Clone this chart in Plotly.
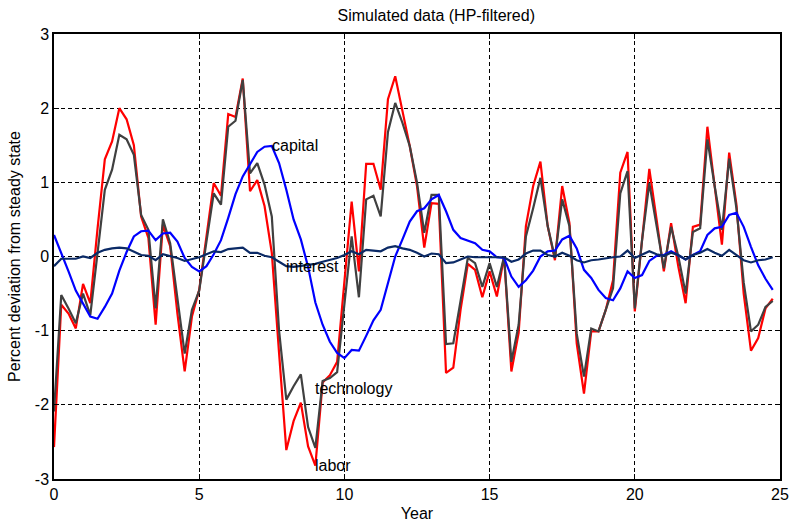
import plotly.graph_objects as go

# quarterly time index (years)
years = [i * 0.25 for i in range(100)]

labor = [-2.57, -0.65, -0.77, -0.97, -0.37, -0.63, 0.38, 1.31, 1.55, 2.0,
         1.85, 1.5, 0.54, 0.25, -0.92, 0.43, 0.14, -0.77, -1.55, -0.81,
         -0.45, 0.3, 0.99, 0.82, 1.92, 1.88, 2.4, 0.88, 1.03, 0.68,
         0.05, -1.3, -2.61, -2.22, -1.97, -2.56, -2.82, -1.7, -1.6, -1.42,
         -0.33, 0.74, -0.2, 1.25, 1.25, 0.9, 2.12, 2.43, 1.96, 1.49,
         0.95, 0.12, 0.72, 0.71, -1.57, -1.5, -0.72, -0.1, -0.18, -0.55,
         -0.2, -0.54, 0.0, -1.55, -1.03, 0.41, 0.95, 1.28, 0.41, -0.05,
         0.95, 0.45, -1.17, -1.85, -1.01, -1.01, -0.72, -0.32, 1.13, 1.41,
         -0.74, 0.22, 1.18, 0.5, -0.2, 0.45, -0.14, -0.63, 0.4, 0.43,
         1.75, 0.95, 0.16, 1.4, 0.7, -0.5, -1.27, -1.1, -0.7, -0.57]

technology = [-2.09, -0.52, -0.7, -0.9, -0.5, -0.79, 0.05, 0.9, 1.17, 1.64,
              1.58, 1.37, 0.56, 0.36, -0.7, 0.5, 0.18, -0.54, -1.31, -0.72,
              -0.46, 0.2, 0.85, 0.7, 1.75, 1.83, 2.38, 1.12, 1.26, 0.97,
              0.54, -1.0, -1.93, -1.75, -1.59, -2.3, -2.58, -1.68, -1.64, -1.56,
              -0.63, 0.27, -0.55, 0.77, 0.82, 0.54, 1.68, 2.07, 1.8, 1.49,
              1.0, 0.32, 0.83, 0.83, -1.18, -1.17, -0.6, -0.02, -0.09, -0.41,
              -0.09, -0.41, 0.0, -1.42, -0.92, 0.27, 0.65, 1.06, 0.41, -0.02,
              0.77, 0.41, -1.04, -1.62, -0.97, -1.01, -0.72, -0.43, 0.85, 1.15,
              -0.7, 0.22, 0.99, 0.42, -0.16, 0.4, 0.0, -0.5, 0.33, 0.38,
              1.58, 0.95, 0.36, 1.32, 0.65, -0.35, -1.01, -0.92, -0.68, -0.6]

capital = [0.29, 0.05, -0.2, -0.46, -0.63, -0.81, -0.84, -0.68, -0.5, -0.19,
           0.06, 0.27, 0.34, 0.35, 0.22, 0.31, 0.32, 0.2, -0.02, -0.14,
           -0.2, -0.13, 0.03, 0.22, 0.52, 0.84, 1.08, 1.24, 1.41, 1.48,
           1.49, 1.26, 0.9, 0.5, 0.23, -0.14, -0.62, -0.92, -1.15, -1.3,
           -1.37, -1.26, -1.27, -1.07, -0.86, -0.72, -0.36, 0.0, 0.23, 0.47,
           0.61, 0.65, 0.77, 0.83, 0.61, 0.36, 0.25, 0.22, 0.18, 0.09,
           0.07, -0.01, -0.02, -0.27, -0.41, -0.32, -0.19, 0.0, 0.07, 0.08,
           0.23, 0.28, 0.11, -0.18, -0.29, -0.45, -0.56, -0.59, -0.43, -0.2,
           -0.29, -0.25, -0.06, 0.01, 0.02, 0.07, 0.02, -0.04, 0.02, 0.07,
           0.29, 0.38, 0.4, 0.56, 0.59, 0.4, 0.13, -0.12, -0.3, -0.45]

interest = [-0.13, -0.03, -0.03, -0.03, 0.0, -0.02, 0.05, 0.09, 0.11, 0.12,
            0.11, 0.07, 0.02, 0.01, -0.05, 0.03, 0.01, -0.02, -0.06, -0.04,
            -0.01, 0.03, 0.07, 0.06, 0.1, 0.11, 0.12, 0.05, 0.05, 0.01,
            -0.01, -0.07, -0.13, -0.14, -0.13, -0.12, -0.1, -0.07, -0.05, -0.02,
            0.02, 0.07, 0.03, 0.09, 0.08, 0.07, 0.12, 0.14, 0.11, 0.09,
            0.05, 0.0, 0.04, 0.03, -0.09, -0.08, -0.04, 0.0, -0.01, -0.01,
            0.0, -0.01, -0.01, -0.07, -0.04, 0.04, 0.08, 0.08, 0.02, 0.0,
            0.05, 0.01, -0.05, -0.08, -0.05, -0.04, -0.02, -0.01, 0.0, 0.08,
            -0.02, 0.02, 0.07, 0.03, 0.01, 0.05, 0.02, -0.04, 0.02, 0.05,
            0.1, 0.05, 0.01, 0.09, 0.02, -0.05, -0.08, -0.05, -0.04, -0.01]

x_ticks = [0, 5, 10, 15, 20, 25]
y_ticks = [-3, -2, -1, 0, 1, 2, 3]

series = [
    ("labor", labor, "#ff0000"),
    ("technology", technology, "#404040"),
    ("capital", capital, "#0000ff"),
    ("interest", interest, "#0b2a66"),
]

FAM = "Liberation Sans, Arial"
font = dict(family=FAM, size=16, color="black")

fig = go.Figure()
for name, vals, col in series:
    fig.add_trace(go.Scatter(x=years, y=vals, mode="lines", name=name,
                             line=dict(color=col, width=2.2), showlegend=False))

# in-plot labels (Matlab text() style, left aligned, vertically centred)
labels = [
    ("capital", years[30], capital[30]),
    ("interest", years[32], interest[32]),
    ("technology", 9.0, -1.78),
    ("labor", years[36], labor[36]),
]
for txt, lx, ly in labels:
    fig.add_annotation(x=lx, y=ly, text=txt, showarrow=False, xanchor="left",
                       yanchor="middle", xshift=-2, font=font)

axis_common = dict(showline=True, linecolor="black", linewidth=1.5, mirror="ticks",
                   ticks="inside", ticklen=5, tickcolor="black", tickwidth=1,
                   showgrid=True, gridcolor="black", gridwidth=1, griddash="4px,3px",
                   zeroline=False, tickfont=font, automargin=False)

fig.update_layout(
    width=791, height=522,
    margin=dict(l=54, r=11, t=34, b=43, autoexpand=False),
    paper_bgcolor="white", plot_bgcolor="white",
    title=dict(text="Simulated data (HP-filtered)", x=(54 + 779) / 2 / 791, xanchor="center",
               xref="paper", y=1 - 15 / 522, yanchor="middle", automargin=False,
               font=font),
    font=font,
)
fig.update_xaxes(range=[0, 25], tickvals=x_ticks, ticktext=[str(v) for v in x_ticks],
                 title=dict(text="Year", font=font, standoff=6), **axis_common)
fig.update_yaxes(range=[-3, 3], tickvals=y_ticks, ticktext=[str(v) for v in y_ticks],
                 title=dict(text="Percent deviation from steady state", font=font, standoff=10),
                 **axis_common)

fig.write_html("out.html", config={"displayModeBar": False},
               post_script="document.body.style.margin='0px';document.body.style.overflow='hidden';")
